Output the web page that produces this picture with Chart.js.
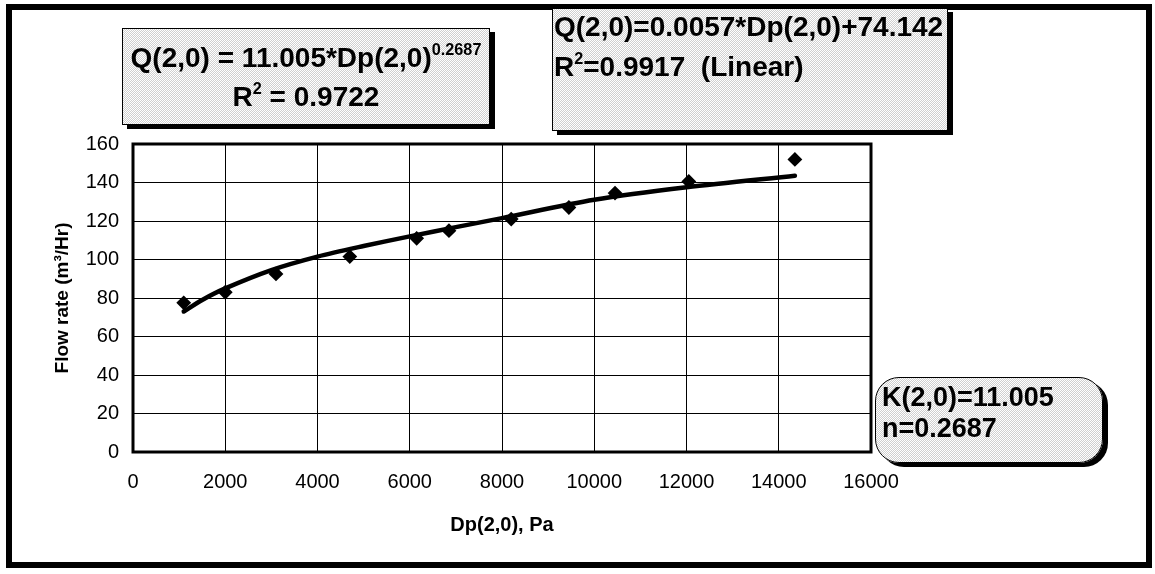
<!DOCTYPE html>
<html>
<head>
<meta charset="utf-8">
<script src="https://cdn.jsdelivr.net/npm/chart.js@4/dist/chart.umd.min.js"></script>
<style>
  html, body { margin: 0; padding: 0; background: #fff; }
  #wrap { position: relative; width: 1155px; height: 574px; overflow: hidden; font-family: "Liberation Sans", Arial, sans-serif; }
  #wrap canvas { position: absolute; left: 0; top: 0; }
  .frame { position: absolute; left: 6px; top: 4px; width: 1146px; height: 564px; border: 6px solid #000; box-sizing: border-box; pointer-events: none; }
  .box { position: absolute; box-sizing: border-box; border: 1.5px solid #000; box-shadow: 5px 4px 0 #000;
         background: repeating-conic-gradient(#cfcfcf 0% 25%, #ffffff 0% 50%) 0 0 / 2px 2px; }
  .line { position: absolute; white-space: nowrap; font-weight: bold; color: #000; line-height: 1; }
  sup { font-size: 0.58em; vertical-align: 0; position: relative; top: -0.75em; }
</style>
</head>
<body>
<div id="wrap">
  <canvas id="c" width="1155" height="574"></canvas>
  <div class="frame"></div>
  <div class="box" style="left:122px; top:28px; width:368px; height:97px;">
    <div class="line" style="left:0; width:100%; text-align:center; top:15px; font-size:28px;">Q(2,0) = 11.005*Dp(2,0)<sup>0.2687</sup></div>
    <div class="line" style="left:0; width:100%; text-align:center; top:54px; font-size:28px;">R<sup>2</sup> = 0.9722</div>
  </div>
  <div class="box" style="left:552px; top:8px; width:396px; height:123px;">
    <div class="line" style="left:1px; top:4px; font-size:28px;">Q(2,0)=0.0057*Dp(2,0)+74.142</div>
    <div class="line" style="left:1px; top:44px; font-size:28px;">R<sup>2</sup>=0.9917&nbsp; (Linear)</div>
  </div>
  <div class="box" style="left:875px; top:377px; width:228px; height:86px; border-radius:24px;">
    <div class="line" style="left:6px; top:6px; font-size:27px;">K(2,0)=11.005</div>
    <div class="line" style="left:6px; top:37px; font-size:27px;">n=0.2687</div>
  </div>
</div>
<script>
// ---- data ----
const dpMeasured   = [1100, 2000, 3100, 4700, 6150, 6850, 8200, 9450, 10450, 12050, 14350];
const flowMeasured = [77.5, 83, 92.5, 101.5, 111, 115, 121, 127, 134.5, 140.5, 152];

const dpTrend   = [1100, 1500, 2000, 3000, 4000, 5000, 6000, 7000, 8000, 10000, 12000, 14350];
const flowTrend = [73, 79, 85, 94.5, 101.5, 107, 112, 116.8, 121.5, 131, 137.5, 143.5];

const xTicks = [0, 2000, 4000, 6000, 8000, 10000, 12000, 14000, 16000];
const yTicks = [0, 20, 40, 60, 80, 100, 120, 140, 160];

const xTitle = "Dp(2,0), Pa";
const yTitle = "Flow rate (m\u00B3/Hr)";

Chart.defaults.font.family = '"Liberation Sans", Arial, sans-serif';
Chart.defaults.color = '#000';

const framePlugin = {
  id: 'plotFrame',
  afterDatasetsDraw(chart) {
    const {ctx, chartArea: a} = chart;
    ctx.save();
    ctx.strokeStyle = '#000';
    ctx.lineWidth = 3;
    ctx.strokeRect(a.left, a.top, a.right - a.left, a.bottom - a.top);
    ctx.restore();
  }
};

new Chart(document.getElementById('c'), {
  type: 'scatter',
  data: {
    datasets: [
      {
        label: 'Power trend',
        type: 'line',
        data: dpTrend.map((x, i) => ({x, y: flowTrend[i]})),
        borderColor: '#000',
        borderWidth: 4.5,
        borderCapStyle: 'round',
        borderJoinStyle: 'round',
        pointRadius: 0,
        tension: 0.3,
        fill: false,
        order: 2
      },
      {
        label: 'Measured',
        data: dpMeasured.map((x, i) => ({x, y: flowMeasured[i]})),
        pointStyle: 'rectRot',
        pointRadius: 6,
        pointBorderWidth: 2,
        backgroundColor: '#000',
        borderColor: '#000',
        order: 1
      }
    ]
  },
  options: {
    responsive: false,
    animation: false,
    events: [],
    layout: { padding: { left: 51, right: 284, top: 144, bottom: 37 } },
    plugins: { legend: { display: false }, tooltip: { enabled: false } },
    scales: {
      x: {
        type: 'linear',
        min: xTicks[0], max: xTicks[xTicks.length - 1],
        afterBuildTicks: s => { s.ticks = xTicks.map(v => ({value: v})); },
        afterFit: s => { s.height = 85; },
        grid: { color: '#000', lineWidth: 1, drawTicks: false },
        border: { display: false },
        ticks: { font: { size: 20 }, padding: 18, maxRotation: 0, autoSkip: false, callback: v => String(v) },
        title: { display: true, text: xTitle, font: { size: 20, weight: 'bold' }, padding: 0 }
      },
      y: {
        type: 'linear',
        min: yTicks[0], max: yTicks[yTicks.length - 1],
        afterBuildTicks: s => { s.ticks = yTicks.map(v => ({value: v})); },
        afterFit: s => { s.width = 82; },
        grid: { color: '#000', lineWidth: 1, drawTicks: false },
        border: { display: false },
        ticks: { font: { size: 20 }, padding: 14, autoSkip: false, callback: v => String(v) },
        title: { display: true, text: yTitle, font: { size: 19, weight: 'bold' }, padding: 0 }
      }
    }
  },
  plugins: [framePlugin]
});
</script>
</body>
</html>
